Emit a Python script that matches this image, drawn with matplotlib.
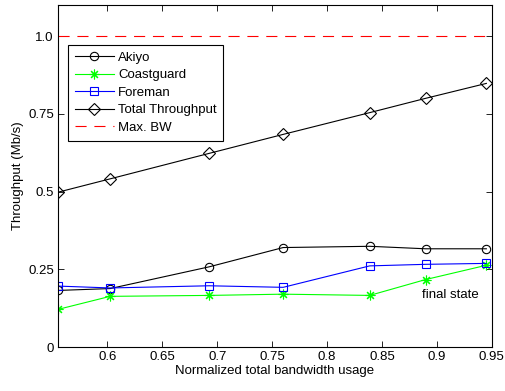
import numpy as np
import matplotlib
matplotlib.use("Agg")
import matplotlib.pyplot as plt

plt.rcParams['font.family'] = ['Liberation Sans', 'DejaVu Sans']

# data
bw_usage = [0.555, 0.6025, 0.6927, 0.760, 0.8388, 0.8897, 0.945]
akiyo = [0.182, 0.188, 0.258, 0.320, 0.324, 0.316, 0.316]
coastguard = [0.121, 0.163, 0.166, 0.170, 0.166, 0.217, 0.263]
foreman = [0.196, 0.190, 0.197, 0.192, 0.261, 0.266, 0.269]
total = [0.498, 0.541, 0.623, 0.684, 0.754, 0.800, 0.848]
max_bw = 1.0

x_ticks = [0.6, 0.65, 0.7, 0.75, 0.8, 0.85, 0.9, 0.95]
y_ticks = [0, 0.25, 0.5, 0.75, 1.0]
y_ticklabels = ['0', '0.25', '0.5', '0.75', '1.0']

fs = 9.5
fig = plt.figure(figsize=(5.06, 3.91), dpi=100)
ax = fig.add_axes([0.1146, 0.1125, 0.8574, 0.8745])

lw = 0.8
ax.plot(bw_usage, akiyo, color='black', lw=lw, marker='o', ms=6,
        mfc='none', mew=0.8, label='Akiyo')
ax.plot(bw_usage, coastguard, color='#00ff00', lw=lw, marker=(8, 2, 0),
        ms=7, mew=0.8, label='Coastguard')
ax.plot(bw_usage, foreman, color='blue', lw=lw, marker='s', ms=5.5,
        mfc='none', mew=0.8, label='Foreman')
ax.plot(bw_usage, total, color='black', lw=lw, marker='D', ms=6,
        mfc='none', mew=0.8, label='Total Throughput')
ax.axhline(max_bw, color='red', lw=lw, ls=(0, (10, 7)), label='Max. BW')

ax.text(0.886, 0.168, 'final state', fontsize=fs, ha='left', va='center')

ax.set_xlim(0.555, 0.95)
ax.set_ylim(0, 1.1)
ax.set_xticks(x_ticks)
ax.set_xticklabels([f'{t:g}' for t in x_ticks])
ax.set_yticks(y_ticks)
ax.set_yticklabels(y_ticklabels)
ax.tick_params(direction='in', top=True, right=True, labelsize=fs,
               length=4, width=0.6, pad=3)
for s in ax.spines.values():
    s.set_linewidth(0.8)

ax.set_xlabel('Normalized total bandwidth usage', fontsize=fs, labelpad=1)
ax.set_ylabel('Throughput (Mb/s)', fontsize=fs, labelpad=3)

leg = ax.legend(loc='upper left', bbox_to_anchor=(0.023, 0.883), fontsize=fs,
                fancybox=False, framealpha=1, edgecolor='black',
                handlelength=3.0, labelspacing=0.4, borderaxespad=0,
                handletextpad=0.3, borderpad=0.5)
leg.get_frame().set_linewidth(0.8)

fig.savefig('out.png', dpi=100)
